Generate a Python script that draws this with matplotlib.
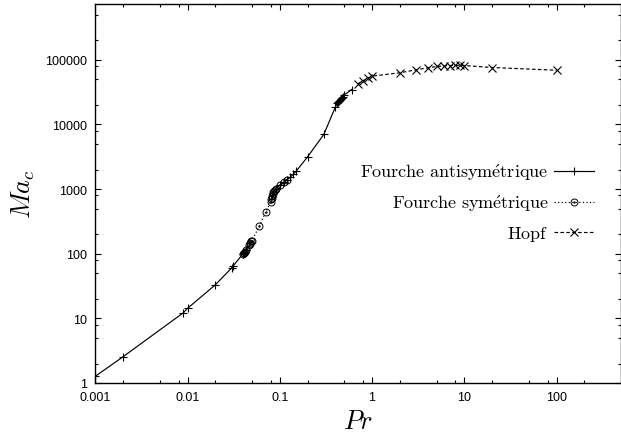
import numpy as np
import matplotlib
matplotlib.use("Agg")
import matplotlib.pyplot as plt
from matplotlib.path import Path
from matplotlib.ticker import LogLocator, FixedFormatter, FixedLocator, NullFormatter

plt.rcParams["mathtext.fontset"] = "cm"
plt.rcParams["font.family"] = ["Liberation Sans", "DejaVu Sans"]

# Fourche antisymétrique (two segments, broken where the symmetric branch takes over)
pr_anti = [0.001, 0.002, 0.009, 0.01, 0.02, 0.03, 0.031, 0.04, 0.041, 0.042, 0.043,
           np.nan,
           0.09, 0.1, 0.11, 0.12, 0.13, 0.14, 0.15, 0.2, 0.3, 0.4,
           0.42, 0.43, 0.44, 0.45, 0.46, 0.47, 0.48, 0.5, 0.6]
ma_anti = [1.27, 2.55, 12.2, 14.3, 33.0, 60.0, 64.0, 100.0, 104.0, 108.0, 113.0,
           np.nan,
           1000.0, 1150.0, 1270.0, 1400.0, 1530.0, 1700.0, 1880.0, 3150.0, 7000.0, 18500.0,
           21500.0, 22500.0, 23300.0, 24200.0, 25000.0, 26000.0, 26800.0, 28500.0, 34700.0]

# Fourche symétrique
pr_sym = [0.04, 0.041, 0.042, 0.043, 0.046, 0.047, 0.048, 0.049, 0.05, 0.06, 0.07,
          0.08, 0.081, 0.082, 0.083, 0.084, 0.085, 0.086, 0.088, 0.09, 0.1, 0.11, 0.12]
ma_sym = [100.0, 104.0, 108.0, 113.0, 135.0, 141.0, 148.0, 155.0, 160.0, 268.0, 435.0,
          640.0, 690.0, 740.0, 790.0, 840.0, 890.0, 930.0, 970.0, 1000.0, 1150.0, 1270.0, 1400.0]

# Hopf
pr_hopf = [0.7, 0.8, 0.9, 1.0, 2.0, 3.0, 4.0, 5.0, 6.0, 7.0, 8.0, 9.0, 10.0, 20.0, 100.0]
ma_hopf = [42500.0, 47500.0, 52000.0, 55900.0, 63000.0, 70000.0, 75000.0, 78800.0,
           80500.0, 81500.0, 82000.0, 82000.0, 81500.0, 76000.0, 69000.0]

x_ticks = [0.001, 0.01, 0.1, 1, 10, 100]
x_labels = ["0.001", "0.01", "0.1", "1", "10", "100"]
y_ticks = [1, 10, 100, 1000, 10000, 100000]
y_labels = ["1", "10", "100", "1000", "10000", "100000"]

# circle with a centre dot
_outer = Path.unit_circle()
_inner = Path(Path.unit_circle().vertices * 0.2, Path.unit_circle().codes)
circ_dot = Path.make_compound_path(_outer, _inner)

fig = plt.figure(figsize=(6.21, 4.39), dpi=100)
ax = fig.add_axes([95.3 / 621, 55 / 439, 1 - 95.3 / 621, 379 / 439])

lw = 0.85
ax.plot(pr_anti, ma_anti, color="black", lw=lw, ls="-", marker="+", ms=5.5, mew=0.8,
        label=r"$\mathrm{Fourche\ antisym\acute{e}trique}$")
ax.plot(pr_sym, ma_sym, color="black", lw=lw, ls=(0, (1, 2)), marker=circ_dot, ms=5,
        mew=0.7, mfc="none", label=r"$\mathrm{Fourche\ sym\acute{e}trique}$")
ax.plot(pr_hopf, ma_hopf, color="black", lw=lw, ls=(0, (3, 2)), marker="x", ms=5.2, mew=0.8,
        label=r"$\mathrm{Hopf}$")

ax.set_xscale("log")
ax.set_yscale("log")
ax.set_xlim(0.001, 500)
ax.set_ylim(1, 7.3e5)

ax.xaxis.set_major_locator(FixedLocator(x_ticks))
ax.xaxis.set_major_formatter(FixedFormatter(x_labels))
ax.yaxis.set_major_locator(FixedLocator(y_ticks))
ax.yaxis.set_major_formatter(FixedFormatter(y_labels))
ax.xaxis.set_minor_locator(LogLocator(base=10, subs=(2, 5, 8), numticks=20))
ax.yaxis.set_minor_locator(LogLocator(base=10, subs=(2, 5, 8), numticks=20))
ax.xaxis.set_minor_formatter(NullFormatter())
ax.yaxis.set_minor_formatter(NullFormatter())

ax.tick_params(which="both", direction="in", top=True, right=True, width=0.8,
               labelsize=9, colors="black")
ax.tick_params(which="major", length=4.5, pad=6)
ax.tick_params(which="minor", length=2.3)

for sp in ax.spines.values():
    sp.set_linewidth(1.0)

ax.set_xlabel(r"$Pr$", fontsize=19, labelpad=4)
ax.set_ylabel(r"$Ma_c$", fontsize=19, labelpad=6)

leg = ax.legend(loc="upper right", bbox_to_anchor=(0.948, 0.585), frameon=False,
                markerfirst=False, fontsize=13, handlelength=2.2, handletextpad=0.3,
                labelspacing=0.6, borderpad=0, borderaxespad=0)

fig.savefig("out.png", dpi=100)
